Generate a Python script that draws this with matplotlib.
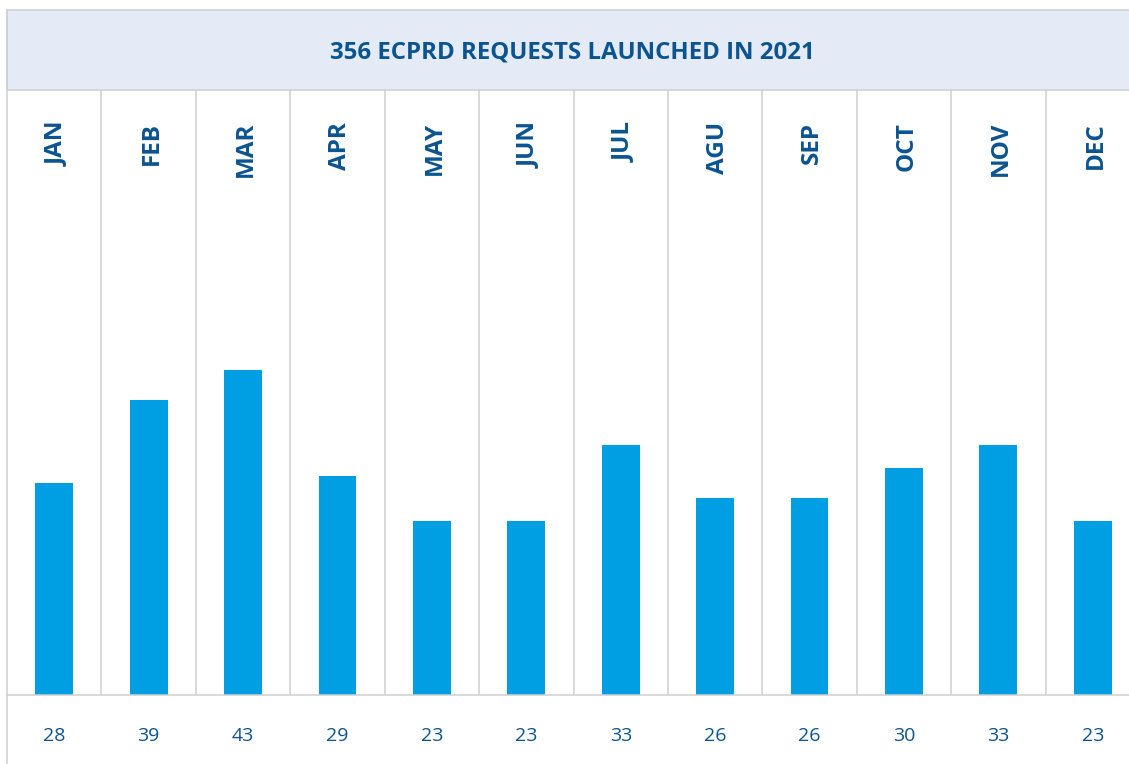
import matplotlib.pyplot as plt
from matplotlib.patches import Rectangle
from matplotlib.lines import Line2D
from matplotlib.transforms import blended_transform_factory

months = ['JAN', 'FEB', 'MAR', 'APR', 'MAY', 'JUN',
          'JUL', 'AGU', 'SEP', 'OCT', 'NOV', 'DEC']
requests = [28, 39, 43, 29, 23, 23, 33, 26, 26, 30, 33, 23]
title = '356 ECPRD REQUESTS LAUNCHED IN 2021'

W, H = 1129, 764
bar_col = '#009fe3'
text_col = '#0b5490'
grid_col = '#cfcfcf'
head_bg = '#e4ebf6'

plt.rcParams['font.family'] = ['Open Sans', 'DejaVu Sans']

fig = plt.figure(figsize=(W / 100, H / 100), dpi=100)

# header band
fig.patches.append(Rectangle((7 / W, 1 - 90 / H), 1.2, 80 / H,
                             transform=fig.transFigure, facecolor=head_bg,
                             edgecolor=grid_col, linewidth=1.1, zorder=0))
fig.text(572 / W, 1 - 53 / H, title, ha='center', va='center',
         fontsize=17.3, fontweight='bold', color=text_col)

# bar area
ax = fig.add_axes([7 / W, 1 - 695 / H, (1140 - 7) / W, (695 - 90) / H])
x = list(range(len(months)))
ax.bar(x, requests, width=0.4, color=bar_col, zorder=2)
ax.set_xlim(-0.5, len(months) - 0.5)
ax.set_ylim(0, 80)
for i in range(len(months) - 1):
    ax.axvline(i + 0.5, color=grid_col, linewidth=1.1, zorder=1)
for s in ax.spines.values():
    s.set_visible(False)
ax.set_xticks([])
ax.set_yticks([])

# baseline and left border
fig.lines.append(Line2D([7 / W, 1], [1 - 695 / H] * 2, transform=fig.transFigure,
                        color=grid_col, linewidth=1.1))
fig.lines.append(Line2D([7 / W] * 2, [0, 1 - 10 / H], transform=fig.transFigure,
                        color=grid_col, linewidth=1.1))

tr = blended_transform_factory(ax.transData, fig.transFigure)
for i, (m, v) in enumerate(zip(months, requests)):
    ax.text(i + 0.03, 1 - 122 / H, m, transform=tr, rotation=90, ha='center', va='top',
            fontsize=17.5, fontweight='bold', color=text_col)
    ax.text(i, 1 - 736 / H, str(v), transform=tr, ha='center', va='center',
            fontsize=14, color=text_col)

fig.savefig('out.png', dpi=100)
